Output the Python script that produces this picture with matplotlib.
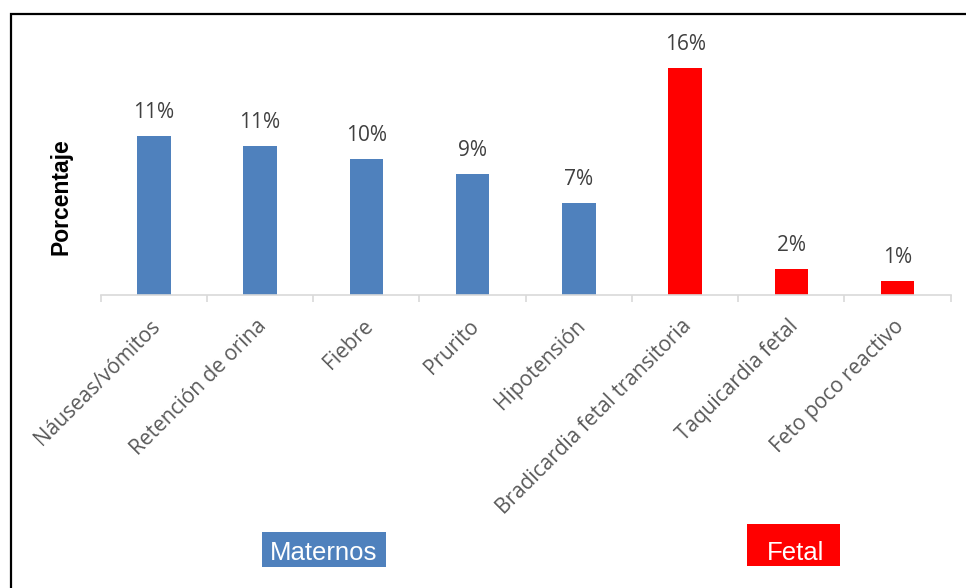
import matplotlib
matplotlib.use("Agg")
import matplotlib.pyplot as plt
import matplotlib.transforms as mtransforms
from matplotlib.patches import Rectangle

W, H = 966, 588

categorias = ["Náuseas/vómitos", "Retención de orina", "Fiebre", "Prurito",
              "Hipotensión", "Bradicardia fetal transitoria", "Taquicardia fetal",
              "Feto poco reactivo"]
porcentajes = [11.2, 10.5, 9.6, 8.5, 6.5, 16.0, 1.8, 1.0]
grupo = ["Maternos"] * 5 + ["Fetal"] * 3

colores_grupo = {"Maternos": "#4F81BD", "Fetal": "#FF0000"}


def px(x, y):
    # pixel position (from top-left) -> figure fraction
    return x / W, 1 - y / H


fig = plt.figure(figsize=(W / 100, H / 100), dpi=100)
fig.patch.set_facecolor("white")

# plot area: baseline at y=295, 14.19 px per percent point
ymax = 19
left, base = px(100.7, 295)
ax = fig.add_axes([left, base, 850 / W, ymax * 14.19 / H])

x = list(range(len(categorias)))
colores = [colores_grupo[g] for g in grupo]
bars = ax.bar(x, porcentajes, width=0.314, color=colores)

for b, v in zip(bars, porcentajes):
    ax.annotate(f"{int(v + 0.5)}%", (b.get_x() + b.get_width() / 2, b.get_height()),
                xytext=(0, 13), textcoords="offset points", ha="center",
                va="baseline", fontsize=15, color="#404040", family="Open Sans")

ax.set_xlim(-0.5, len(categorias) - 0.5)
ax.set_ylim(0, ymax)
ax.set_yticks([])
for s in ["top", "right", "left"]:
    ax.spines[s].set_visible(False)
ax.spines["bottom"].set_color("#D9D9D9")
ax.spines["bottom"].set_linewidth(1.2)

ax.set_xticks(x)
ax.set_xticklabels(categorias, rotation=45, ha="right", va="top",
                   rotation_mode="anchor", fontsize=15, color="#595959",
                   family="Open Sans")
ax.tick_params(axis="x", which="major", length=0, pad=15)
ax.set_xticks([i - 0.5 for i in range(len(categorias) + 1)], minor=True)
ax.tick_params(axis="x", which="minor", length=5, width=1.2, color="#D9D9D9")
shift = mtransforms.ScaledTranslation(-4 / 100, 0, fig.dpi_scale_trans)
for lbl in ax.get_xticklabels():
    lbl.set_transform(lbl.get_transform() + shift)

fig.text(*px(61, 197), "Porcentaje", rotation=90, ha="center", va="center",
         fontsize=16.5, fontweight="bold", family="Liberation Sans", color="#000000")

# group boxes under the categories
cajas = [("Maternos", 262.3, 532.3, 123.4, 34.4, 324, 560),
         ("Fetal", 746.7, 524, 93.3, 41.7, 796, 559.5)]
for nombre, bx, by, bw, bh, tx, ty in cajas:
    x0, y0 = px(bx, by + bh)
    fig.add_artist(Rectangle((x0, y0), bw / W, bh / H, transform=fig.transFigure,
                             facecolor=colores_grupo[nombre], edgecolor="none"))
    fig.text(*px(tx, ty), nombre, ha="center", va="baseline", fontsize=18.5,
             color="white", family="Liberation Sans")

# outer frame
fx, fy = px(11, 620)
fig.add_artist(Rectangle((fx, fy), 1.1, 1 - 14 / H - fy, transform=fig.transFigure,
                         facecolor="none", edgecolor="black", linewidth=1.6))

fig.savefig("out.png", dpi=100)
